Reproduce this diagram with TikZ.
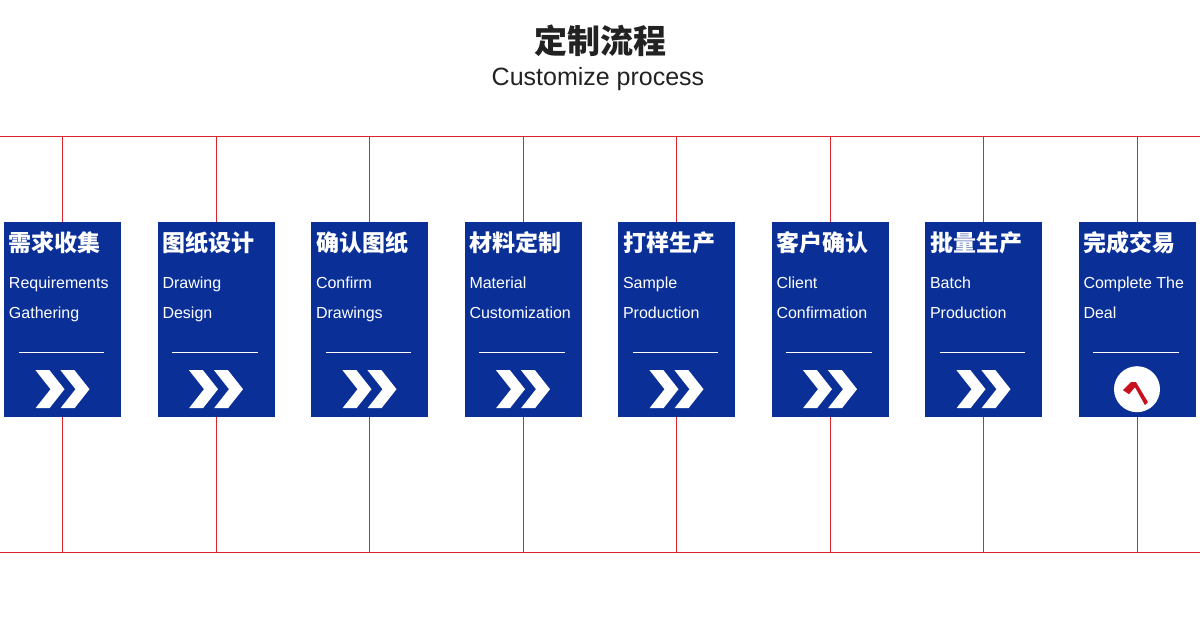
\documentclass[tikz,border=0pt]{standalone}
\usepackage{fontspec}
\setmainfont{Liberation Sans}
\newfontfamily\cjk{Noto Sans CJK SC}
\definecolor{cardblue}{HTML}{0A3098}
\definecolor{gridred}{HTML}{D9262C}
\definecolor{tickred}{HTML}{C8101E}
\definecolor{titlegray}{HTML}{222222}
\begin{document}
\begin{tikzpicture}[x=1pt,y=-1pt,
    card/.style={fill=cardblue,minimum width=117pt,minimum height=195pt,inner sep=0pt},
    gridline/.style={draw=gridred,line width=0.8pt},
    headtext/.style={text=white,font=\cjk\bfseries\fontsize{23}{26}\selectfont,anchor=west,inner sep=0pt},
    subtext/.style={text=white,font=\fontsize{16}{30}\selectfont,anchor=north west,inner sep=0pt,align=left}]
    \useasboundingbox (0,0) rectangle (1200,623);
    \node[text=titlegray] (title) at (600,41) {\cjk\bfseries\fontsize{33}{36}\selectfont 定制流程};
    \node[text=titlegray] (subtitle) at (598,79) {\fontsize{25}{28}\selectfont Customize process};
    \coordinate (topl) at (0,136);
    \coordinate (topr) at (1200,136);
    \coordinate (botl) at (0,552);
    \coordinate (botr) at (1200,552);
    \draw[gridline] (topl) -- (topr);
    \draw[gridline] (botl) -- (botr);
    \foreach \i/\x/\zh/\en in {
        1/62.5/需求收集/{Requirements\\Gathering},
        2/216/图纸设计/{Drawing\\Design},
        3/369.5/确认图纸/{Confirm\\Drawings},
        4/523/材料定制/{Material\\Customization},
        5/676.5/打样生产/{Sample\\Production},
        6/830/客户确认/{Client\\Confirmation},
        7/983.5/批量生产/{Batch\\Production},
        8/1137/完成交易/{Complete The\\Deal}} {
        \coordinate (t\i) at (\x,136);
        \coordinate (b\i) at (\x,552);
        \draw[gridline] (t\i) -- (b\i);
        \node[card] (c\i) at (\x,319.5) {};
        \node[headtext] (h\i) at ([xshift=5pt,yshift=-21pt]c\i.north west) {\zh};
        \node[subtext] (e\i) at ([xshift=5pt,yshift=-55pt]c\i.north west) {\en};
        \draw[white,line width=0.8pt] ([xshift=15pt,yshift=-131pt]c\i.north west)
            -- ([xshift=-17pt,yshift=-131pt]c\i.north east);
    }
    % chevrons
    \foreach \i in {1,...,7} {
        \foreach \d in {0,25} {
            \fill[white] ([xshift=-27pt+\d,yshift=47pt]c\i.south)
                -- ++(14,0) -- ++(15,19) -- ++(-15,19) -- ++(-14,0) -- ++(15,-19) -- cycle;
        }
    }
    % tick
    \node[circle,fill=white,minimum size=46pt] (ok) at ([yshift=28pt]c8.south) {};
    \fill[tickred] ([xshift=-14pt,yshift=-1pt]ok.center) -- ++(6,4) -- ++(6,-7)
        -- ++(10,18) -- ++(3,-3) -- ++(-12,-20) -- ++(-5,0) -- cycle;
\end{tikzpicture}
\end{document}
